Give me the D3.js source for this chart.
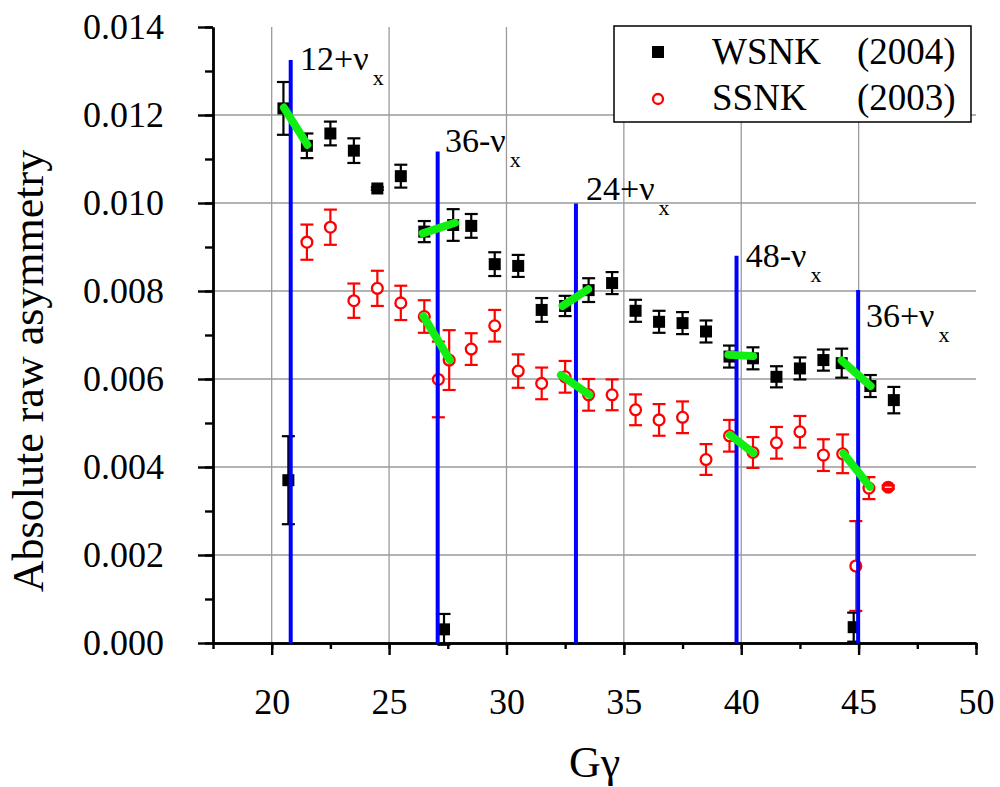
<!DOCTYPE html>
<html>
<head>
<meta charset="utf-8">
<script src="https://cdn.jsdelivr.net/npm/d3@7"></script>
<style>
  html, body { margin: 0; padding: 0; background: #fff; }
  svg { display: block; }
</style>
</head>
<body>
<svg id="chart" width="1000" height="787"></svg>
<script>
// ---------------- data ----------------
const xTicks = [20, 25, 30, 35, 40, 45, 50];
const yTicks = [0, 0.002, 0.004, 0.006, 0.008, 0.010, 0.012, 0.014];

// WSNK (2004) – black squares
const wsnkX   = [20.5, 21.5, 22.5, 23.5, 24.5, 25.5, 26.5, 27.73, 28.5, 29.5, 30.5, 31.5, 32.5, 33.5, 34.5,
                 35.5, 36.5, 37.5, 38.5, 39.5, 40.5, 41.5, 42.5, 43.5, 44.28, 45.5, 46.5, 20.71, 27.34, 44.79];
const wsnkY   = [0.01215, 0.01130, 0.01158, 0.01119, 0.01033, 0.01061, 0.00935, 0.00950, 0.00948, 0.00861, 0.00857, 0.00757, 0.00766, 0.00802, 0.00818,
                 0.00755, 0.00730, 0.00727, 0.00708, 0.00651, 0.00647, 0.00605, 0.00624, 0.00643, 0.00636, 0.00584, 0.00552, 0.00370, 0.00031, 0.00036];
const wsnkErr = [0.00060, 0.00028, 0.00027, 0.00028, 0.00003, 0.00026, 0.00024, 0.00036, 0.00027, 0.00027, 0.00025, 0.00027, 0.00023, 0.00027, 0.00025,
                 0.00025, 0.00025, 0.00025, 0.00025, 0.00025, 0.00025, 0.00024, 0.00025, 0.00024, 0.00033, 0.00025, 0.00030, 0.00100, 0.00035, 0.00033];

// SSNK (2003) – red open circles
const ssnkX   = [21.5, 22.5, 23.5, 24.5, 25.5, 26.5, 27.10, 27.56, 28.5, 29.5, 30.5, 31.5, 32.5, 33.5, 34.5,
                 35.5, 36.5, 37.5, 38.5, 39.5, 40.5, 41.5, 42.5, 43.5, 44.32, 45.44, 46.26, 44.88];
const ssnkY   = [0.00911, 0.00945, 0.00778, 0.00806, 0.00773, 0.00742, 0.00599, 0.00643, 0.00668, 0.00721, 0.00618, 0.00590, 0.00605, 0.00564, 0.00564,
                 0.00530, 0.00507, 0.00513, 0.00417, 0.00471, 0.00433, 0.00455, 0.00480, 0.00427, 0.00430, 0.00352, 0.00354, 0.00175];
const ssnkErr = [0.00040, 0.00040, 0.00039, 0.00040, 0.00039, 0.00037, 0.00086, 0.00068, 0.00036, 0.00036, 0.00038, 0.00036, 0.00036, 0.00036, 0.00035,
                 0.00035, 0.00036, 0.00036, 0.00035, 0.00036, 0.00035, 0.00036, 0.00036, 0.00036, 0.00044, 0.00025, 0.00004, 0.00102];
const ssnkThin = [false, false, false, false, false, false, false, false, false, false, false, false, false, false, false,
                  false, false, false, false, false, false, false, false, false, false, false, false, true];

// resonance lines (blue)
const resX    = [20.81, 27.07, 32.96, 39.80, 44.98];
const resTop  = [0.01325, 0.01117, 0.00999, 0.00880, 0.00802];
const resName = ["12+\u03BD", "36-\u03BD", "24+\u03BD", "48-\u03BD", "36+\u03BD"];
const resSub  = ["x", "x", "x", "x", "x"];
const resLabelX = [21.21, 27.38, 33.39, 40.19, 45.31];
const resLabelY = [0.01302, 0.01117, 0.01007, 0.00855, 0.00719];

// green fit segments
const fitX1 = [20.52, 26.43, 32.39, 39.45, 44.28, 26.46, 32.32, 39.52, 44.35];
const fitY1 = [0.01217, 0.00931, 0.00766, 0.00655, 0.00642, 0.00743, 0.00609, 0.00473, 0.00431];
const fitX2 = [21.52, 27.81, 33.48, 40.51, 45.51, 27.59, 33.53, 40.51, 45.48];
const fitY2 = [0.01132, 0.00955, 0.00804, 0.00652, 0.00584, 0.00643, 0.00564, 0.00432, 0.00355];

const legendNames = ["WSNK", "SSNK"];
const legendYears = ["(2004)", "(2003)"];

// ---------------- layout ----------------
const FONT = "Liberation Serif";
const svg = d3.select("#chart");
const x = d3.scaleLinear().domain([17.5, 50]).range([213, 976]);
const y = d3.scaleLinear().domain([0, 0.014]).range([643, 27]);

// grid
const grid = svg.append("g");
grid.selectAll("line.gv").data([20, 25, 30, 35, 40, 45]).join("line")
  .attr("x1", d => x(d)).attr("x2", d => x(d))
  .attr("y1", y(0)).attr("y2", y(0.014))
  .attr("stroke", "#9a9a9a").attr("stroke-width", 1.3);
grid.selectAll("line.gh").data([0.002, 0.004, 0.006, 0.008, 0.010, 0.012]).join("line")
  .attr("x1", x(17.5)).attr("x2", x(50))
  .attr("y1", d => y(d)).attr("y2", d => y(d))
  .attr("stroke", "#9a9a9a").attr("stroke-width", 1.3);

// axes
const yMinor = d3.range(0, 0.0141, 0.001);
const xMinor = d3.range(17.5, 50.1, 2.5);
svg.append("g").attr("transform", `translate(${x(17.5)},0)`)
  .call(d3.axisLeft(y).tickValues(yTicks).tickSize(15).tickSizeOuter(0).tickPadding(34).tickFormat(d3.format(".3f")));
svg.append("g").attr("transform", `translate(${x(17.5)},0)`)
  .call(d3.axisLeft(y).tickValues(yMinor).tickSize(8).tickSizeOuter(0).tickFormat(""));
svg.append("g").attr("transform", `translate(0,${y(0)})`)
  .call(d3.axisBottom(x).tickValues(xTicks).tickSize(12).tickSizeOuter(0).tickPadding(33).tickFormat(d3.format("d")));
svg.append("g").attr("transform", `translate(0,${y(0)})`)
  .call(d3.axisBottom(x).tickValues(xMinor).tickSize(6).tickSizeOuter(0).tickFormat(""));
svg.selectAll(".domain").attr("stroke", "#000").attr("stroke-width", 2.4);
svg.selectAll(".tick line").attr("stroke", "#000").attr("stroke-width", 2.4);
svg.selectAll(".tick text").style("font-family", FONT).style("font-size", "36px").attr("fill", "#000");

// axis titles
svg.append("text").attr("x", x(33.75)).attr("y", 777).attr("text-anchor", "middle")
  .style("font-family", FONT).style("font-size", "44px").text("G\u03B3");
svg.append("text").attr("transform", "translate(43,371) rotate(-90)").attr("text-anchor", "middle")
  .style("font-family", FONT).style("font-size", "44px").text("Absolute raw asymmetry");

// error bars + markers
const cap = 6.5;
const wsnk = wsnkX.map((d, i) => ({ x: d, y: wsnkY[i], e: wsnkErr[i] }));
const ssnk = ssnkX.map((d, i) => ({ x: d, y: ssnkY[i], e: ssnkErr[i], thin: ssnkThin[i] }));

function errorBars(g, data, color) {
  const eb = g.selectAll("g").data(data).join("g");
  eb.append("line").attr("x1", d => x(d.x)).attr("x2", d => x(d.x))
    .attr("y1", d => y(d.y - d.e)).attr("y2", d => y(d.y + d.e))
    .attr("stroke", color).attr("stroke-width", d => d.thin ? 1.2 : 2.2);
  eb.append("line").attr("x1", d => x(d.x) - cap).attr("x2", d => x(d.x) + cap)
    .attr("y1", d => y(d.y + d.e)).attr("y2", d => y(d.y + d.e))
    .attr("stroke", color).attr("stroke-width", 2.2);
  eb.append("line").attr("x1", d => x(d.x) - cap).attr("x2", d => x(d.x) + cap)
    .attr("y1", d => y(d.y - d.e)).attr("y2", d => y(d.y - d.e))
    .attr("stroke", color).attr("stroke-width", 2.2);
}
errorBars(svg.append("g"), wsnk, "#000");
errorBars(svg.append("g"), ssnk, "#ff0000");

svg.append("g").selectAll("rect").data(wsnk).join("rect")
  .attr("x", d => x(d.x) - 6).attr("y", d => y(d.y) - 6)
  .attr("width", 12).attr("height", 12).attr("fill", "#000");
svg.append("g").selectAll("circle").data(ssnk).join("circle")
  .attr("cx", d => x(d.x)).attr("cy", d => y(d.y)).attr("r", 5.4)
  .attr("fill", "#fff").attr("stroke", "#ff0000").attr("stroke-width", 2.3);
// tiny-error point: caps drawn over circle
svg.append("g").selectAll("circle").data(ssnk.filter(d => d.e < 0.0001)).join("circle")
  .attr("cx", d => x(d.x)).attr("cy", d => y(d.y)).attr("r", 5.4).attr("fill", "#ff0000");
svg.append("g").selectAll("line").data(ssnk.filter(d => d.e < 0.0001)).join("line")
  .attr("x1", d => x(d.x) - 3.5).attr("x2", d => x(d.x) + 3.5)
  .attr("y1", d => y(d.y)).attr("y2", d => y(d.y))
  .attr("stroke", "#fff").attr("stroke-width", 1.2);

// blue resonance lines
svg.append("g").selectAll("line").data(resX).join("line")
  .attr("x1", d => x(d)).attr("x2", d => x(d))
  .attr("y1", y(0)).attr("y2", (d, i) => y(resTop[i]))
  .attr("stroke", "#0000ff").attr("stroke-width", 4);

// green fit segments
svg.append("g").selectAll("line").data(fitX1).join("line")
  .attr("x1", d => x(d)).attr("y1", (d, i) => y(fitY1[i]))
  .attr("x2", (d, i) => x(fitX2[i])).attr("y2", (d, i) => y(fitY2[i]))
  .attr("stroke", "#11ee11").attr("stroke-width", 8).attr("stroke-linecap", "round");

// resonance labels
const lab = svg.append("g").selectAll("text").data(resName).join("text")
  .attr("x", (d, i) => x(resLabelX[i])).attr("y", (d, i) => y(resLabelY[i]))
  .style("font-family", FONT).style("font-size", "34px");
lab.append("tspan").text(d => d);
lab.append("tspan").attr("dx", 4).attr("dy", 15).style("font-size", "22px").text((d, i) => resSub[i]);

// legend
const lg = svg.append("g");
lg.append("rect").attr("x", 614).attr("y", 26).attr("width", 357).attr("height", 96)
  .attr("fill", "#fff").attr("stroke", "#000").attr("stroke-width", 1.5);
lg.append("rect").attr("x", 652).attr("y", 46).attr("width", 12).attr("height", 12).attr("fill", "#000");
lg.append("circle").attr("cx", 658).attr("cy", 99).attr("r", 5)
  .attr("fill", "#fff").attr("stroke", "#ff0000").attr("stroke-width", 2.3);
lg.selectAll("text.n").data(legendNames).join("text")
  .attr("x", 712).attr("y", (d, i) => 64 + i * 46).style("font-family", FONT).style("font-size", "37px").text(d => d);
lg.selectAll("text.yr").data(legendYears).join("text")
  .attr("x", 857).attr("y", (d, i) => 64 + i * 46).style("font-family", FONT).style("font-size", "37px").text(d => d);
</script>
</body>
</html>
